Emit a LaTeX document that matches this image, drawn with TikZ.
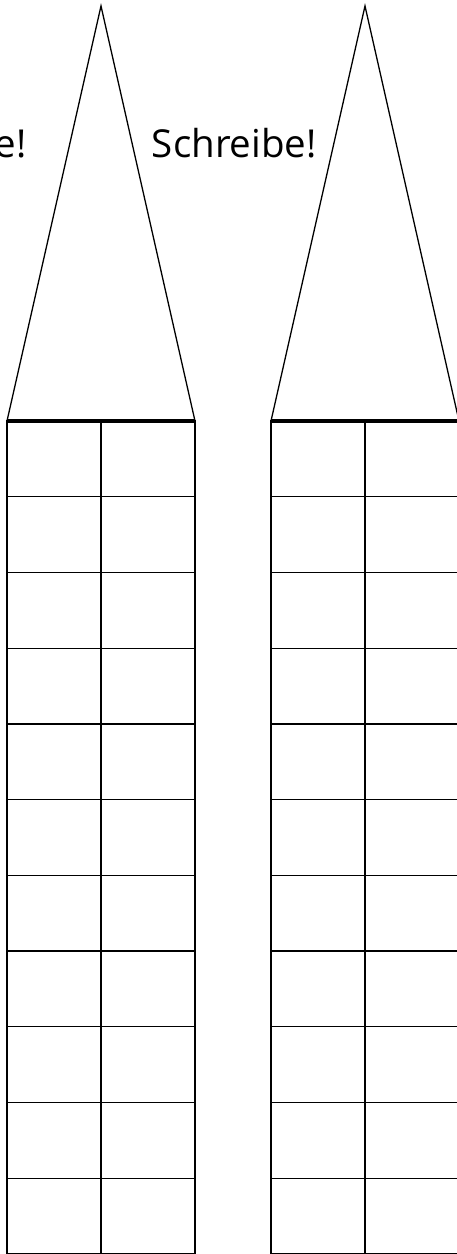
\documentclass[tikz,border=0pt]{standalone}
\usepackage{fontspec}
\setmainfont{Open Sans}
\tikzset{wall/.style={line width=1.3pt},
  roofbase/.style={line width=3.2pt},
  sign/.style={font=\fontsize{38.5}{40}\selectfont,anchor=base east,inner sep=0pt}}

\begin{document}
\begin{tikzpicture}[x=1pt,y=1pt]
  \useasboundingbox (0,0) rectangle (457,1254);
  \foreach \tx in {7,271} {
    % roof
    \draw[wall] (\tx,833) -- (\tx+94,1248) -- (\tx+188,833);
    % grid
    \foreach \ry in {0,...,10}
      \draw[wall] (\tx,\ry*75.73) rectangle (\tx+188,\ry*75.73+75.73);
    \draw[wall] (\tx+94,0) -- (\tx+94,833);
    \draw[roofbase] (\tx,833) -- (\tx+188,833);
  }
  \node[sign] (schreibeL) at (27,1096) {Schreibe!};
  \node[sign] (schreibeR) at (317,1096) {Schreibe!};
\end{tikzpicture}
\end{document}
